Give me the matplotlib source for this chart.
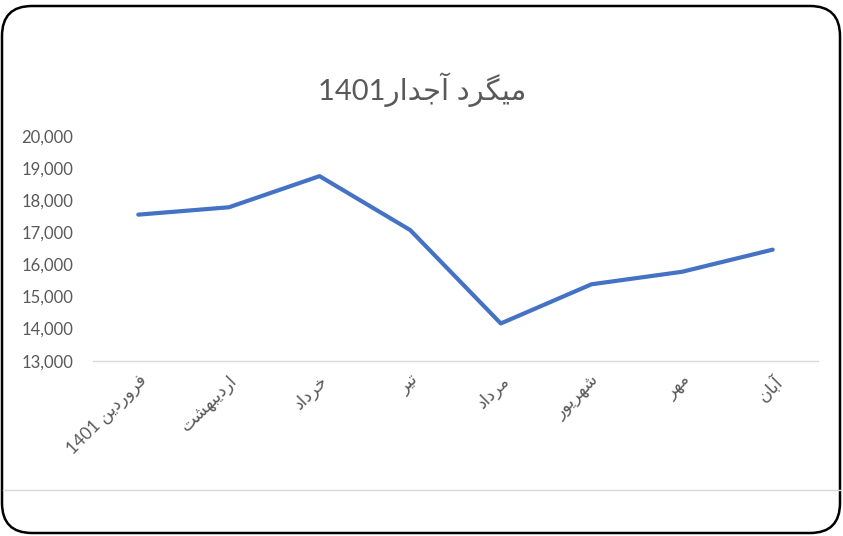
import numpy as np
import matplotlib.pyplot as plt
from matplotlib.patches import FancyBboxPatch
from matplotlib.ticker import FuncFormatter

# data
title = "میگرد آجدار1401"
months = ["فروردین 1401", "اردیبهشت", "خرداد", "تیر", "مرداد", "شهریور", "مهر", "آبان"]
prices = [17550, 17780, 18750, 17070, 14160, 15380, 15770, 16460]
yticks = [13000, 14000, 15000, 16000, 17000, 18000, 19000, 20000]

# --- small persian shaper (matplotlib does no arabic shaping / bidi) ---
# letter: (isolated, final, initial, medial); two forms = joins only to the right
FORMS = {
    "ا": ("\uFE8D", "\uFE8E"),
    "آ": ("\uFE81", "\uFE82"),
    "د": ("\uFEA9", "\uFEAA"),
    "ر": ("\uFEAD", "\uFEAE"),
    "و": ("\uFEED", "\uFEEE"),
    "ب": ("\uFE8F", "\uFE90", "\uFE91", "\uFE92"),
    "ت": ("\uFE95", "\uFE96", "\uFE97", "\uFE98"),
    "ج": ("\uFE9D", "\uFE9E", "\uFE9F", "\uFEA0"),
    "خ": ("\uFEA5", "\uFEA6", "\uFEA7", "\uFEA8"),
    "ش": ("\uFEB5", "\uFEB6", "\uFEB7", "\uFEB8"),
    "ف": ("\uFED1", "\uFED2", "\uFED3", "\uFED4"),
    "م": ("\uFEE1", "\uFEE2", "\uFEE3", "\uFEE4"),
    "ن": ("\uFEE5", "\uFEE6", "\uFEE7", "\uFEE8"),
    "ه": ("\uFEE9", "\uFEEA", "\uFEEB", "\uFEEC"),
    "ی": ("\uFBFC", "\uFBFD", "\uFBFE", "\uFBFF"),
    "گ": ("\uFB92", "\uFB93", "\uFB94", "\uFB95"),
}


def shape(s):
    out = []
    for i, ch in enumerate(s):
        if ch not in FORMS:
            out.append(ch)
            continue
        f = FORMS[ch]
        prev = s[i - 1] if i > 0 else ""
        nxt = s[i + 1] if i + 1 < len(s) else ""
        pj = prev in FORMS and len(FORMS[prev]) == 4
        nj = len(f) == 4 and nxt in FORMS
        if pj and nj:
            out.append(f[3])
        elif nj:
            out.append(f[2])
        elif pj:
            out.append(f[1])
        else:
            out.append(f[0])
    return "".join(out)


def rtl(s):
    """shape and put into visual (left to right) order, digits kept LTR"""
    s = shape(s)
    runs, cur, isdig = [], "", None
    for ch in s:
        d = ch.isdigit()
        if cur and d != isdig:
            runs.append((cur, isdig))
            cur = ""
        cur += ch
        isdig = d
    if cur:
        runs.append((cur, isdig))
    return "".join(r if d else r[::-1] for r, d in reversed(runs))


plt.rcParams['font.family'] = ['Lato', 'DejaVu Sans']
grey = "#595959"

W, H = 843, 536
fig = plt.figure(figsize=(W / 100, H / 100), dpi=100)

# background frame in pixel units
bg = fig.add_axes([0, 0, 1, 1])
bg.set_xlim(0, W)
bg.set_ylim(H, 0)
bg.axis("off")
bg.add_patch(FancyBboxPatch((2, 6), 838, 527, boxstyle="round,pad=0,rounding_size=30",
                            facecolor="white", edgecolor="black", lw=1.8))
bg.plot([3, 841], [490, 490], color="#d9d9d9", lw=1)
bg.text(422, 90, rtl(title), ha="center", va="center", fontsize=21, color=grey)

ax = fig.add_axes([93 / W, 1 - 360.7 / H, (818 - 93) / W, (360.7 - 136) / H])
ax.patch.set_alpha(0)
x = np.arange(len(months))
ax.plot(x, prices, color="#4472C4", lw=3, solid_joinstyle="round", solid_capstyle="round")
ax.set_xlim(-0.5, len(months) - 0.5)
ax.set_ylim(yticks[0], yticks[-1])
ax.set_yticks(yticks)
ax.yaxis.set_major_formatter(FuncFormatter(lambda v, p: f"{int(v):,}"))
ax.set_xticks(x)
ax.set_xticklabels([rtl(m) for m in months], rotation=45, ha="right", va="top",
                   rotation_mode="anchor", fontsize=12.5, color=grey)
ax.tick_params(axis="y", length=0, pad=14, labelsize=12, labelcolor=grey)
ax.tick_params(axis="x", length=0, pad=8)
for side in ["left", "right", "top"]:
    ax.spines[side].set_visible(False)
ax.spines["bottom"].set_color("#d9d9d9")
ax.spines["bottom"].set_linewidth(1)

fig.savefig("out.png", dpi=100)
